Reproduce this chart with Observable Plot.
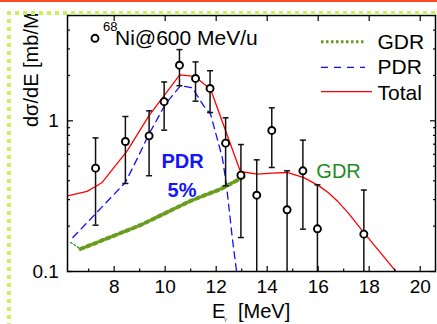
<!DOCTYPE html>
<html>
<head>
<meta charset="utf-8">
<script src="https://cdn.jsdelivr.net/npm/d3@7"></script>
<script src="https://cdn.jsdelivr.net/npm/@observablehq/plot@0.6"></script>
<style>
  html, body { margin: 0; padding: 0; background: #fff; }
  #wrap { position: relative; width: 437px; height: 324px; overflow: hidden; font-family: "Liberation Sans", Arial, sans-serif; }
  #wrap svg { position: absolute; left: 0; top: 0; }
  .mask { position: absolute; left: 0; top: 0; width: 437px; height: 13px; background: #fff; }
  .topline { position: absolute; left: 0; top: 0; width: 437px; height: 2px; background: #ff4b1f; }
  .dotsH { position: absolute; left: 7px; top: 11px; width: 430px; height: 4px;
           background: repeating-linear-gradient(to right, #c8f25a 0 4px, transparent 4px 8px); }
  .dotsV { position: absolute; left: 7px; top: 11px; width: 4px; height: 313px;
           background: repeating-linear-gradient(to bottom, #c8f25a 0 4px, transparent 4px 8px); }
</style>
</head>
<body>
<div id="wrap"></div>
<script>
// Measured differential cross section for 68Ni at 600 MeV/u
const energy  = [7.27, 8.44, 9.37, 9.96, 10.56, 11.19, 11.76, 12.37, 12.97, 13.59, 14.18, 14.78, 15.40, 15.97, 17.79];
const sigma   = [0.485, 0.729, 0.795, 1.34, 2.34, 1.91, 1.64, 0.711, 0.436, 0.321, 0.863, 0.257, 0.466, 0.192, 0.177];
const errLow  = [0.203, 0.384, 0.432, 0.867, 1.71, 1.35, 1.135, 0.371, 0.168, 0.05, 0.49, 0.05, 0.191, 0.05, 0.05];
const errHigh = [0.77, 1.068, 1.165, 1.81, 2.97, 2.46, 2.15, 1.047, 0.696, 0.551, 1.22, 0.466, 0.744, 0.376, 0.347];

// Model curves
const totalE = [6.17, 6.94, 7.53, 8.51, 9.36, 10.57, 11.16, 11.78, 12.95, 13.61, 14.2, 14.78, 15.44, 16.03, 16.4, 16.75, 17.2, 17.79, 18.4, 19.05];
const totalV = [0.318, 0.340, 0.390, 0.632, 1.08, 2.02, 1.97, 1.62, 0.461, 0.443, 0.449, 0.454, 0.420, 0.370, 0.333, 0.294, 0.242, 0.181, 0.136, 0.1];
const pdrE = [6.38, 8.44, 8.96, 9.33, 10.01, 10.6, 11.06, 11.51, 11.78, 12.24, 12.40, 12.63, 12.8];
const pdrV = [0.168, 0.39, 0.586, 0.795, 1.29, 1.71, 1.66, 1.257, 1.107, 0.571, 0.38, 0.168, 0.1];
const gdrE = [6.29, 6.68, 9.03, 10.99, 12.17, 13.15];
const gdrV = [0.156, 0.141, 0.203, 0.294, 0.352, 0.431];

// Axis ticks
const xMajor = [8, 10, 12, 14, 16, 18, 20];
const xMinor = [7, 9, 11, 13, 15, 17, 19];
const yMajor = [0.1, 1];
const yMinor = [0.2, 0.3, 0.4, 0.5, 0.6, 0.7, 0.8, 0.9, 2, 3, 4, 5];
const yTickText = ["0.1", "1"];

// Text annotations inside the frame
const pdrNotes = [
  {text: "PDR", x: 10.68, y: 0.54},
  {text: "5%",  x: 10.66, y: 0.345}
];
const gdrNotes = [{text: "GDR", x: 16.8, y: 0.461}];

const points = energy.map((E, i) => ({E, v: sigma[i], lo: errLow[i], hi: errHigh[i]}));
const total = totalE.map((E, i) => ({E, v: totalV[i]}));
const pdr = pdrE.map((E, i) => ({E, v: pdrV[i]}));
const gdr = gdrE.map((E, i) => ({E, v: gdrV[i]}));

const RED = "#ff0000", BLUE = "#1010ff", OLIVE = "#6a9c1f";
const FONT = "'Liberation Sans', Arial, sans-serif";

// horizontal bar used for error-bar caps
const capSymbol = {
  draw(context, size) {
    const w = Math.sqrt(size / Math.PI);
    context.moveTo(-w, 0);
    context.lineTo(w, 0);
  }
};

const plot = Plot.plot({
  width: 437,
  height: 324,
  marginTop: 15,
  marginLeft: 67,
  marginRight: 2,
  marginBottom: 53,
  style: {fontFamily: FONT, fontSize: "19px", background: "white", color: "black", overflow: "visible"},
  x: {domain: [6.17, 20.6]},
  y: {type: "log", domain: [0.1, 5]},
  marks: [
    // curves
    Plot.line(total, {x: "E", y: "v", stroke: RED, strokeWidth: 1.3, clip: true}),
    Plot.line(pdr, {x: "E", y: "v", stroke: BLUE, strokeWidth: 1.3, strokeDasharray: "7,5", clip: true}),
    Plot.line(gdr.slice(0, 2), {x: "E", y: "v", stroke: "#2a8a2a", strokeWidth: 1.2, strokeDasharray: "2,2"}),
    Plot.line(gdr.slice(1), {x: "E", y: "v", stroke: OLIVE, strokeWidth: 4, strokeDasharray: "3.5,3.5"}),
    // data with error bars
    Plot.ruleX(points, {x: "E", y1: "lo", y2: "hi", stroke: "#111", strokeWidth: 1.5, clip: true}),
    Plot.dot(points, {x: "E", y: "hi", symbol: capSymbol, r: 3, stroke: "#111", strokeWidth: 1.5}),
    Plot.dot(points.filter(d => d.lo >= 0.1), {x: "E", y: "lo", symbol: capSymbol, r: 3, stroke: "#111", strokeWidth: 1.5}),
    Plot.dot(points, {x: "E", y: "v", r: 3.5, stroke: "black", strokeWidth: 1.9, fill: "white"}),
    // annotations
    Plot.text(pdrNotes, {x: "x", y: "y", text: "text", fill: "#1414ff", fontWeight: "bold", fontSize: 20, fontFamily: FONT}),
    Plot.text(gdrNotes, {x: "x", y: "y", text: "text", fill: "#1e8c1e", fontSize: 20, fontFamily: FONT}),
    // axes: inward ticks on all sides
    Plot.axisX(xMajor, {anchor: "bottom", tickSize: -5, strokeWidth: 1.2, fill: "none", label: null}),
    Plot.axisX(xMinor, {anchor: "bottom", tickSize: -2.5, strokeWidth: 1.2, fill: "none", label: null}),
    Plot.axisX(xMajor, {anchor: "top", tickSize: -5, strokeWidth: 1.2, fill: "none", label: null}),
    Plot.axisX(xMajor, {anchor: "bottom", tickSize: 0, tickPadding: 8, label: null, fontSize: 19}),
    Plot.axisY(yMajor, {anchor: "left", tickSize: -6, strokeWidth: 1.2, fill: "none", label: null}),
    Plot.axisY(yMinor, {anchor: "left", tickSize: -3, strokeWidth: 1.2, fill: "none", label: null}),
    Plot.axisY(yMajor, {anchor: "right", tickSize: -6, strokeWidth: 1.2, fill: "none", label: null}),
    Plot.axisY(yMinor, {anchor: "right", tickSize: -3, strokeWidth: 1.2, fill: "none", label: null}),
    Plot.axisY(yMajor, {anchor: "left", tickSize: 0, tickPadding: 8.7, label: null, fontSize: 19,
      tickFormat: d => yTickText[yMajor.indexOf(d)]}),
    Plot.frame({stroke: "black", strokeWidth: 1.5})
  ]
});

const wrap = document.getElementById("wrap");
wrap.appendChild(plot);

const svg = d3.select(plot);
const label = (x, y, size, txt, fill = "black") =>
  svg.append("text").attr("x", x).attr("y", y)
    .attr("text-anchor", "start")
    .attr("font-family", FONT).attr("font-size", size).attr("fill", fill).text(txt);

// axis titles
svg.append("text")
  .attr("transform", "translate(38,127) rotate(-90)")
  .attr("text-anchor", "start")
  .attr("font-family", FONT).attr("font-size", 20).attr("fill", "black")
  .text("dσ/dE [mb/MeV]");
label(212, 317.7, 20, "E");
label(224, 321, 6, "γ", "#555");
label(238, 317.7, 20, "[MeV]");

// data-set label
svg.append("circle").attr("cx", 95).attr("cy", 38.3).attr("r", 3.5)
  .attr("fill", "white").attr("stroke", "black").attr("stroke-width", 1.9);
label(103, 31, 13, "68");
label(115, 45, 21, "Ni@600 MeV/u");

// legend
const legend = [
  {name: "GDR", y: 41.7, base: 49.3, x2: 365, stroke: OLIVE, width: 3, dash: "2.5,2.5"},
  {name: "PDR", y: 67.3, base: 74.3, x2: 365, stroke: BLUE, width: 1.3, dash: "7,6"},
  {name: "Total", y: 91.7, base: 100, x2: 372, stroke: RED, width: 1.3, dash: null}
];
legend.forEach(d => {
  svg.append("line").attr("x1", 321).attr("x2", d.x2).attr("y1", d.y).attr("y2", d.y)
    .attr("stroke", d.stroke).attr("stroke-width", d.width)
    .attr("stroke-dasharray", d.dash);
  label(377.5, d.base, 21, d.name);
});

// page border decoration
["mask", "topline", "dotsH", "dotsV"].forEach(c => {
  const el = document.createElement("div");
  el.className = c;
  wrap.appendChild(el);
});
</script>
</body>
</html>
